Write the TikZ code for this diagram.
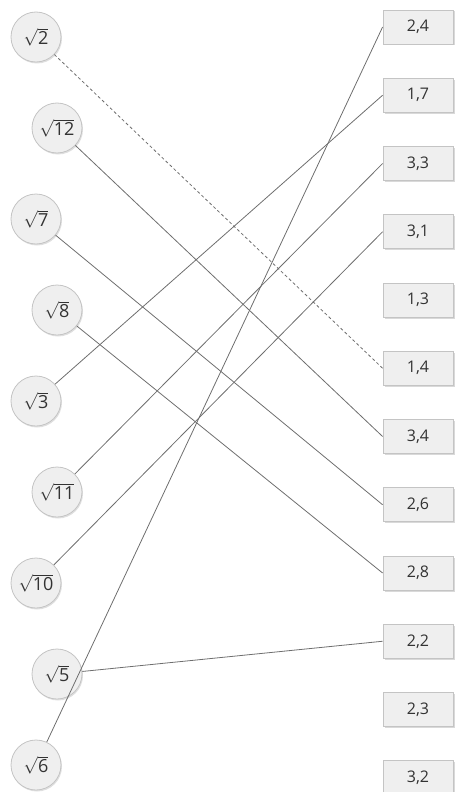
\documentclass[tikz,border=0pt]{standalone}
\usepackage{fontspec}
\setmainfont{Open Sans}
\usetikzlibrary{shadows}
\definecolor{cFill}{HTML}{EFEFEF}
\definecolor{cEdge}{HTML}{C4C4C4}
\definecolor{cLine}{HTML}{6E6E6E}
\definecolor{cText}{HTML}{333333}
\tikzset{
  rootball/.style={circle,draw=cEdge,fill=cFill,line width=0.8pt,minimum size=50pt,inner sep=0pt,
    text=cText,font=\fontsize{18}{21}\selectfont,
    drop shadow={shadow xshift=1pt,shadow yshift=-1.5pt,opacity=0.25}},
  valbox/.style={rectangle,draw=cEdge,fill=cFill,line width=0.8pt,minimum width=70pt,minimum height=34pt,inner sep=0pt,
    text=cText,font=\fontsize{16}{19}\selectfont,
    drop shadow={shadow xshift=1.5pt,shadow yshift=-1.5pt,opacity=0.3}},
  link/.style={cLine,line width=0.8pt}}

\begin{document}
\begin{tikzpicture}[x=1pt,y=-1pt]
  \useasboundingbox (0,0) rectangle (457,792);
  % left column: square roots
  \foreach \v/\x [count=\i from 0] in {2/36,12/57,7/36,8/57,3/36,11/57,10/36,5/57,6/36}
    \node[rootball] (c\v) at (\x,{37+91*\i}) {$\sqrt{\mbox{\v}}$};
  % right column: approximations
  \foreach \a/\b [count=\i from 0] in {2/4,1/7,3/3,3/1,1/3,1/4,3/4,2/6,2/8,2/2,2/3,3/2}
    \node[valbox] (b\a\b) at (418,{27+68.25*\i}) {\a,\b};
  % matches
  \draw[link,dash pattern=on 3pt off 2.5pt] (c2) -- (b14.west);
  \foreach \v/\t in {12/b34,7/b26,8/b28,3/b17,11/b33,10/b31,5/b22,6/b24}
    \draw[link] (c\v) -- (\t.west);
\end{tikzpicture}
\end{document}
